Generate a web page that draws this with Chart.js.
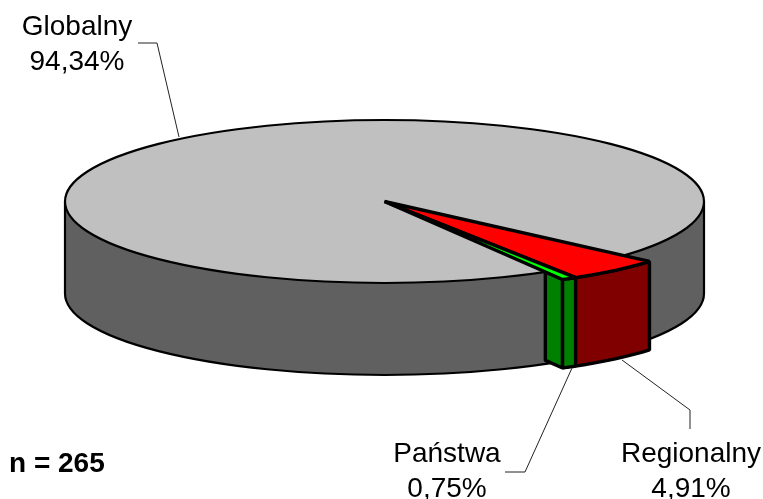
<!DOCTYPE html>
<html>
<head>
<meta charset="utf-8">
<style>
    body { margin: 0; background: #fff; }
    canvas { display: block; }
</style>
<script src="https://cdn.jsdelivr.net/npm/chart.js@4"></script>
</head>
<body>
<canvas id="pieChart" width="763" height="499"></canvas>
<script>
const categories = ['Regionalny', 'Państwa', 'Globalny'];
const shares = [4.91, 0.75, 94.34];
const sampleSize = 265;

const topColors = ['#ff0000', '#00ff00', '#c0c0c0'];
const sideColors = ['#800000', '#008000', '#606060'];

// Size of the tilted disc, in pixels
const discX = 319.5, discY = 81.5, discDepth = 92;
// The two small slices stick out of the disc, so they get their own projection
const wedgeMatrix = [332.8, 15.6, 5.6, 86.5], wedgeDepth = 88.5;

function fmtShare(v) {
    return v.toFixed(2).replace('.', ',') + '%';
}

function wedgePoint(arc, angle, r = 1) {
    const c = Math.cos(angle), s = Math.sin(angle);
    return {
        x: arc.x + r * (wedgeMatrix[0] * c + wedgeMatrix[1] * s),
        y: arc.y + r * (wedgeMatrix[2] * c + wedgeMatrix[3] * s)
    };
}

function outerEdge(arc) {
    const pts = [];
    for (let i = 0; i <= 10; i++) {
        pts.push(wedgePoint(arc, arc.startAngle + (arc.endAngle - arc.startAngle) * i / 10));
    }
    return pts;
}

function drawShape(ctx, pts, fill) {
    ctx.beginPath();
    pts.forEach((p, i) => i ? ctx.lineTo(p.x, p.y) : ctx.moveTo(p.x, p.y));
    ctx.closePath();
    ctx.fillStyle = fill;
    ctx.fill();
    ctx.stroke();
}

function drawDisc(ctx, arc, i) {
    ctx.lineWidth = 2.2;
    ctx.beginPath();
    ctx.moveTo(arc.x - discX, arc.y);
    ctx.lineTo(arc.x - discX, arc.y + discDepth);
    ctx.ellipse(arc.x, arc.y + discDepth, discX, discY, 0, Math.PI, 0, true);
    ctx.lineTo(arc.x + discX, arc.y);
    ctx.closePath();
    ctx.fillStyle = sideColors[i];
    ctx.fill();
    ctx.stroke();

    ctx.beginPath();
    ctx.ellipse(arc.x, arc.y, discX, discY, 0, 0, Math.PI * 2);
    ctx.fillStyle = topColors[i];
    ctx.fill();
    ctx.stroke();
}

function drawWedge(ctx, arc, i) {
    const edge = outerEdge(arc);
    const lowered = edge.map(p => ({ x: p.x, y: p.y + wedgeDepth })).reverse();
    drawShape(ctx, edge.concat(lowered), sideColors[i]);
}

function drawWedgeTop(ctx, arc, i) {
    drawShape(ctx, [{ x: arc.x, y: arc.y }].concat(outerEdge(arc)), topColors[i]);
}

// Cut face of the last small slice, visible from where it leaves the disc
function drawCutFace(ctx, arc, i) {
    const end = wedgePoint(arc, arc.endAngle);
    const dx = end.x - arc.x, dy = end.y - arc.y;
    const t = 1 / Math.hypot(dx / discX, dy / discY);
    const start = { x: arc.x + dx * t, y: arc.y + dy * t };
    drawShape(ctx, [
        start, end,
        { x: end.x, y: end.y + wedgeDepth },
        { x: start.x, y: start.y + wedgeDepth }
    ], sideColors[i]);
}

const pie3d = {
    id: 'pie3d',
    beforeDatasetsDraw(chart) {
        const ctx = chart.ctx;
        const arcs = chart.getDatasetMeta(0).data;
        ctx.save();
        ctx.strokeStyle = '#000';
        ctx.lineJoin = 'bevel';
        drawDisc(ctx, arcs[2], 2);
        ctx.lineWidth = 3.4;
        drawCutFace(ctx, arcs[1], 1);
        drawWedge(ctx, arcs[1], 1);
        drawWedge(ctx, arcs[0], 0);
        drawWedgeTop(ctx, arcs[0], 0);
        drawWedgeTop(ctx, arcs[1], 1);
        ctx.restore();
        return false;
    },
    afterDraw(chart) {
        const ctx = chart.ctx;
        ctx.save();

        // leader lines
        ctx.strokeStyle = '#222';
        ctx.lineWidth = 1;
        [
            [[138, 43], [157, 43], [179, 137]],
            [[505, 472], [525, 472], [572, 368]],
            [[622, 360], [690, 410], [690, 429]]
        ].forEach(line => {
            ctx.beginPath();
            line.forEach((p, i) => i ? ctx.lineTo(p[0], p[1]) : ctx.moveTo(p[0], p[1]));
            ctx.stroke();
        });

        ctx.fillStyle = '#000';
        ctx.textAlign = 'center';
        ctx.textBaseline = 'alphabetic';
        ctx.font = '28px "Liberation Sans"';
        [[691, 462, 497], [447, 462, 497], [77, 35, 70]].forEach((pos, i) => {
            ctx.fillText(categories[i], pos[0], pos[1]);
            ctx.fillText(fmtShare(shares[i]), pos[0], pos[2]);
        });

        ctx.textAlign = 'left';
        ctx.font = 'bold 28px "Liberation Sans"';
        ctx.fillText('n = ' + sampleSize, 9, 472);
        ctx.restore();
    }
};

new Chart(document.getElementById('pieChart').getContext('2d'), {
    type: 'pie',
    data: {
        labels: categories,
        datasets: [{
            data: shares,
            backgroundColor: topColors,
            borderWidth: 0
        }]
    },
    options: {
        responsive: false,
        animation: false,
        rotation: 130,
        layout: { padding: { left: 6, bottom: 96 } },
        plugins: {
            legend: { display: false },
            tooltip: { enabled: false }
        }
    },
    plugins: [pie3d]
});
</script>
</body>
</html>
